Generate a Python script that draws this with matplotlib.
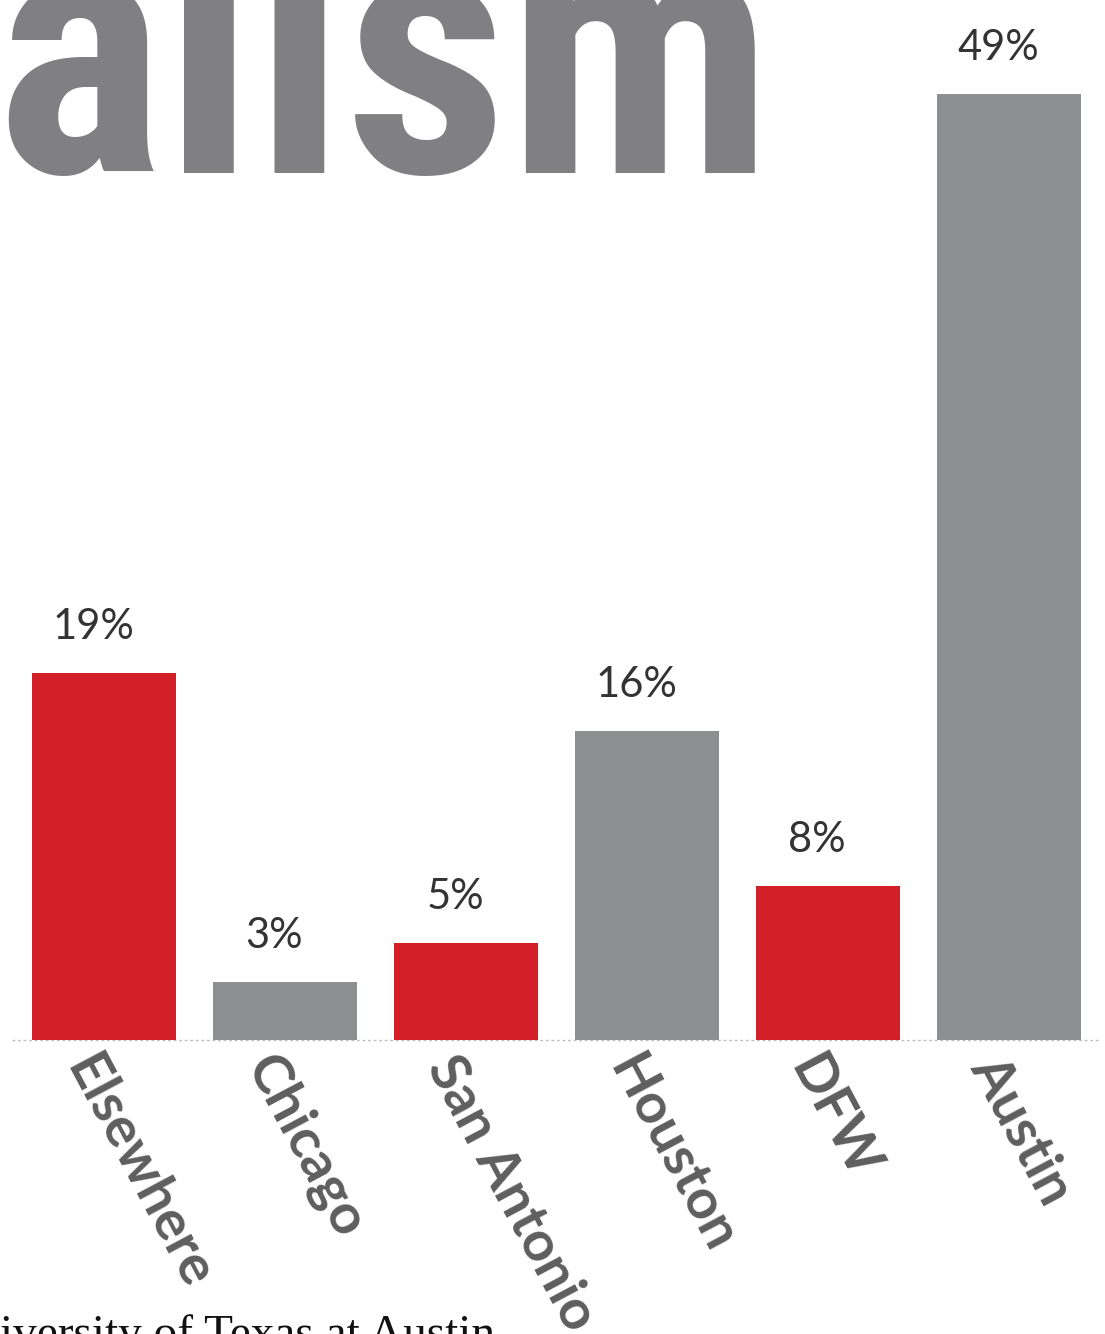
import matplotlib.pyplot as plt
from matplotlib import font_manager

cities = ['Elsewhere', 'Chicago', 'San Antonio', 'Houston', 'DFW', 'Austin']
shares = [19, 3, 5, 16, 8, 49]
highlight = [True, False, True, False, True, False]

red = '#d31f28'
gray = '#8e8f91'

# a condensed face for the headline if one is installed
names = {f.name for f in font_manager.fontManager.ttflist}
title_font, title_size = 'Liberation Sans', 218
for cand, size in [('Liberation Sans Narrow', 264), ('Roboto Condensed', 258),
                   ('Open Sans Condensed', 264), ('DejaVu Sans Condensed', 237)]:
    if cand in names:
        title_font, title_size = cand, size
        break

fig = plt.figure(figsize=(11.05, 13.34), dpi=100)
ax = fig.add_axes([0, 0.2204, 1, 0.7796])
ax.set_xlim(-0.575, 5.53)
ax.set_ylim(0, 1040 / 19.3)
ax.axis('off')

colors = [red if h else gray for h in highlight]
x = range(len(cities))
ax.bar(x, shares, width=0.8, color=colors, zorder=2)

# dotted baseline
ax.plot([-0.51, 5.5], [0, 0], ls=(0, (2, 2)), color='#bdbdbd', lw=1, zorder=1,
        clip_on=False)

for i, v in enumerate(shares):
    ax.text(i - 0.06, v + 1.4, f'{v}%', ha='center', va='bottom',
            family='Lato', fontsize=30, color='#333333')
    ax.text(i - 0.02, -0.4, cities[i], ha='left', va='top', rotation=-62,
            rotation_mode='anchor', family='Lato', fontweight='bold',
            fontsize=40, color='#5e5e5e', clip_on=False)

# cut-off headline and credit line
fig.text(-0.004, (1334 - 173) / 1334, 'alism', family=title_font,
         fontweight='bold', fontsize=title_size, color='#808083', va='baseline')
fig.text(0.0, (1334 - 1347) / 1334, 'iversity of Texas at Austin',
         family='Liberation Serif', fontsize=34, color='#111111', va='baseline')

fig.savefig('out.png', dpi=100)
